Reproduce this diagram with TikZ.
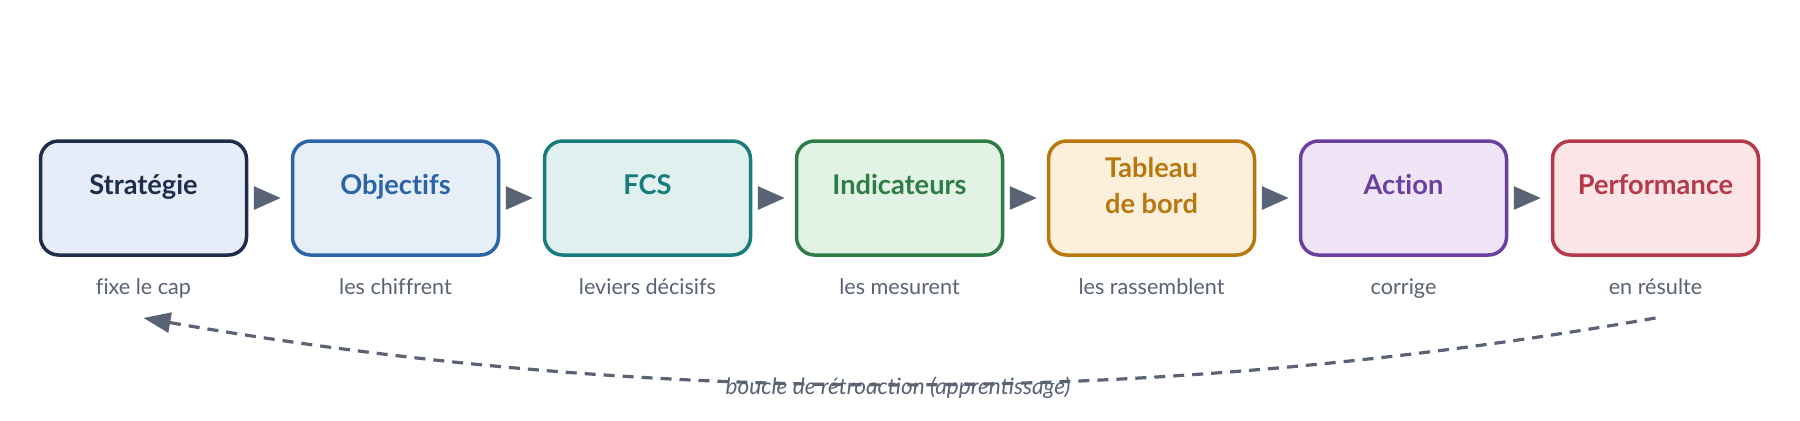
\documentclass[tikz,border=0pt]{standalone}
\usepackage{fontspec}
\setmainfont{Lato}[Ligatures=CommonOff]
\usepackage{xcolor}
\usetikzlibrary{arrows.meta, positioning}

\definecolor{navyline}{HTML}{1F2D4D}
\definecolor{navyfill}{HTML}{E6EDF8}
\definecolor{blueline}{HTML}{2C64A8}
\definecolor{bluefill}{HTML}{E6EEF8}
\definecolor{tealline}{HTML}{177D7A}
\definecolor{tealfill}{HTML}{DFF0EF}
\definecolor{greenline}{HTML}{2E7D46}
\definecolor{greenfill}{HTML}{E2F2E5}
\definecolor{goldline}{HTML}{B9780F}
\definecolor{goldfill}{HTML}{FCF0DB}
\definecolor{purpleline}{HTML}{6A3F9F}
\definecolor{purplefill}{HTML}{EFE5F6}
\definecolor{redline}{HTML}{B43A4B}
\definecolor{redfill}{HTML}{FBE5E7}
\definecolor{slate}{HTML}{5A6373}

\begin{document}
\begin{tikzpicture}[
    x=0.5pt, y=-0.5pt,
    node distance=21.25pt,
    box/.style 2 args={rectangle, rounded corners=9pt, draw=#1, fill=#2, line width=1.75pt, minimum width=103pt, minimum height=57pt},
    ttl/.style={font=\fontsize{13.6pt}{18pt}\selectfont\bfseries, text=#1, align=center, inner sep=0pt, text height=9.8pt, text depth=0pt},
    note/.style={font=\fontsize{10.8pt}{13pt}\selectfont, text=slate, inner sep=0pt, text height=8pt, text depth=2pt},
    fbnote/.style={note, font=\fontsize{11.3pt}{13pt}\selectfont\itshape},
    flow/.style={-{Triangle[length=13.5pt, width=11.5pt]}, line width=1.6pt, draw=slate, shorten <=3pt, shorten >=5pt},
    fbline/.style={-{Triangle[length=13.5pt, width=10pt]}, line width=1.6pt, draw=slate, dash pattern=on 5.5pt off 4pt}
]

\useasboundingbox (0,0) rectangle (1800,420);

\node[box={navyline}{navyfill}] (strat) at (143.5,198) {};
\node[box={blueline}{bluefill}, right=of strat] (obj) {};
\node[box={tealline}{tealfill}, right=of obj] (fcs) {};
\node[box={greenline}{greenfill}, right=of fcs] (ind) {};
\node[box={goldline}{goldfill}, right=of ind] (tdb) {};
\node[box={purpleline}{purplefill}, right=of tdb] (act) {};
\node[box={redline}{redfill}, right=of act] (perf) {};

\node[ttl=navyline] (strat-t) at ([yshift=6.5pt]strat.center) {Stratégie};
\node[ttl=blueline] (obj-t) at ([yshift=6.5pt]obj.center) {Objectifs};
\node[ttl=tealline] (fcs-t) at ([yshift=6.5pt]fcs.center) {FCS};
\node[ttl=greenline] (ind-t) at ([yshift=6.5pt]ind.center) {Indicateurs};
\node[ttl=goldline, text height=, text depth=] (tdb-t) at ([yshift=6.5pt]tdb.center) {Tableau\\de bord};
\node[ttl=purpleline] (act-t) at ([yshift=6.5pt]act.center) {Action};
\node[ttl=redline] (perf-t) at ([yshift=6.5pt]perf.center) {Performance};

\node[note, below=10.5pt of strat] (strat-n) {fixe le cap};
\node[note, below=10.5pt of obj] (obj-n) {les chiffrent};
\node[note, below=10.5pt of fcs] (fcs-n) {leviers décisifs};
\node[note, below=10.5pt of ind] (ind-n) {les mesurent};
\node[note, below=10.5pt of tdb] (tdb-n) {les rassemblent};
\node[note, below=10.5pt of act] (act-n) {corrige};
\node[note, below=10.5pt of perf] (perf-n) {en résulte};

\draw[flow] (strat) -- (obj);
\draw[flow] (obj) -- (fcs);
\draw[flow] (fcs) -- (ind);
\draw[flow] (ind) -- (tdb);
\draw[flow] (tdb) -- (act);
\draw[flow] (act) -- (perf);

% feedback loop
\node[fbnote] (fb-label) at (898,388) {boucle de rétroaction (apprentissage)};
\coordinate[below=9.7pt of perf-n] (fb-out);
\coordinate[below=9.7pt of strat-n] (fb-in);
\draw[fbline] (fb-out) .. controls +(-504,89) and +(505,88) .. (fb-in);

\end{tikzpicture}
\end{document}
